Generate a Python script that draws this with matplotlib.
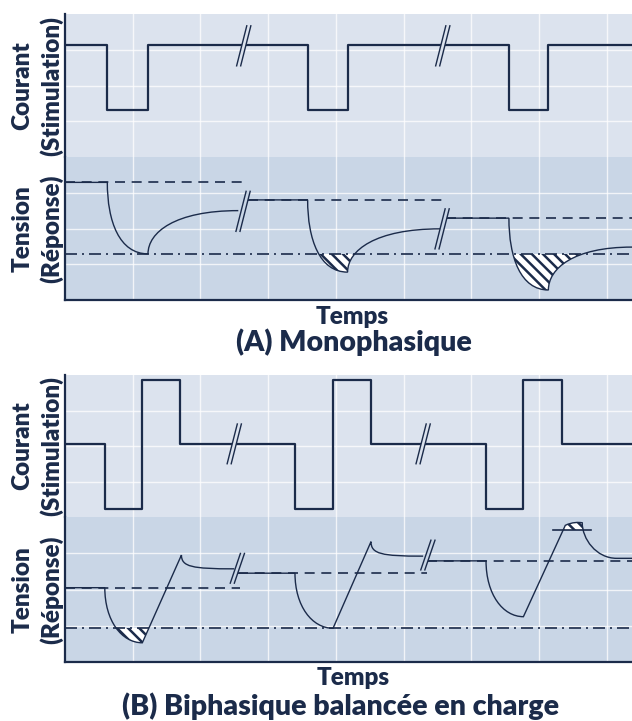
import matplotlib.pyplot as plt
from matplotlib.path import Path
from matplotlib.patches import PathPatch, Rectangle

plt.rcParams['font.family'] = ['Lato', 'DejaVu Sans']
plt.rcParams['hatch.linewidth'] = 1.8

BLEU = '#1b2b4a'
FOND_HAUT = '#dce3ee'
FOND_BAS = '#c9d6e6'
X_MAX = 8.375

# ---- (A) Monophasique ----
mono_t_on = [0.625, 3.584, 6.557]
mono_t_off = [1.226, 4.174, 7.14]
mono_i_repos = 3.13
mono_i_impulsion = 1.31
mono_coupures_i = [2.64, 5.58]

mono_debut = [0.0, 2.70, 5.63]
mono_fin = [2.56, 5.54, X_MAX]
mono_fin_tirets = [2.64, 5.57, X_MAX]
mono_v_repos = [3.29, 2.80, 2.29]
mono_v_min = [1.29, 0.78, 0.28]
mono_v_fin = [2.50, 1.99, 1.48]
mono_v_seuil = 1.29
mono_coupures_t = [2.63, 5.57]
mono_coupures_v = [2.48, 1.99]

# ---- (B) Biphasique balancée en charge ----
bi_t_on = [0.588, 3.397, 6.219]
bi_t_mid = [1.142, 3.959, 6.771]
bi_t_off = [1.702, 4.52, 7.337]
bi_i_repos = 2.06
bi_i_neg = 0.23
bi_i_pos = 3.86
bi_coupures_i = [2.50, 5.29]

bi_debut = [0.0, 2.56, 5.35]
bi_fin_tirets = [2.58, 5.35, X_MAX]
bi_v_repos = [2.05, 2.45, 2.79]
bi_v_creux = [0.53, 0.93, 1.25]
bi_t_pic = [1.72, 4.52, 7.39]
bi_v_pic = [2.95, 3.32, 3.77]
bi_t_fin = [2.50, 5.29, 8.15]
bi_v_fin = [2.57, 2.92, 2.86]
bi_v_seuil = 0.93
bi_sommet = (7.64, 3.84)   # sommet arrondi du 3e cycle
bi_v_plafond = 3.64
bi_plafond_t = (7.21, 7.77)
bi_coupures_t = [2.546, 5.36]
bi_coupures_v = [2.585, 2.95]


def courbe_rc(x0, y0, x1, y1, a=0.55, b=0.3):
    # bezier cubique : depart raide, arrivee a plat
    return [(x0, y0 + a * (y1 - y0)), (x0 + b * (x1 - x0), y1), (x1, y1)]


def preparer(ax, fond, bas):
    ax.set_facecolor(fond)
    ax.set_xlim(0, X_MAX)
    ax.set_ylim(0, 4)
    ax.set_xticks(range(1, 9))
    ax.set_yticks([1, 2, 3])
    ax.tick_params(length=0, labelbottom=False, labelleft=False)
    ax.grid(color='white', lw=1.0, alpha=0.75)
    ax.set_axisbelow(True)
    for s in ['top', 'right']:
        ax.spines[s].set_visible(False)
    ax.spines['left'].set_color(BLEU)
    ax.spines['left'].set_linewidth(1.6)
    if bas:
        ax.spines['bottom'].set_color(BLEU)
        ax.spines['bottom'].set_linewidth(1.6)
    else:
        ax.spines['bottom'].set_visible(False)


def coupure(ax, xc, yc, h, fond):
    dx, e = 0.075, 0.03
    ax.fill([xc - e - dx, xc - e + dx, xc + e + dx, xc + e - dx],
            [yc - h, yc + h, yc + h, yc - h], color=fond, lw=0, zorder=4)
    for o in (-e, e):
        ax.plot([xc + o - dx, xc + o + dx], [yc - h, yc + h], color=BLEU, lw=1.0, zorder=5)


def trace(ax, verts, codes, lw=1.0):
    ax.add_patch(PathPatch(Path(verts, codes), fill=False, edgecolor=BLEU, lw=lw, zorder=3))


def hachures(ax, verts, codes, y0, y1):
    p = PathPatch(Path(verts, codes), facecolor='white', edgecolor=BLEU, lw=0,
                  hatch='\\\\\\', zorder=2)
    ax.add_patch(p)
    p.set_clip_path(Rectangle((-1, y0), X_MAX + 2, y1 - y0, transform=ax.transData))


def escalier(t, niveaux):
    xs, ys = [0.0], [niveaux[0]]
    for ti, (a, b) in zip(t, zip(niveaux[:-1], niveaux[1:])):
        xs += [ti, ti]
        ys += [a, b]
    xs.append(X_MAX)
    ys.append(niveaux[-1])
    return xs, ys


fig = plt.figure(figsize=(6.32, 7.21), dpi=100)
L, W = 65 / 632, 1 - 65 / 632
ax_ai = fig.add_axes([L, 1 - 157 / 721, W, 143 / 721])
ax_av = fig.add_axes([L, 1 - 300 / 721, W, 143 / 721])
ax_bi = fig.add_axes([L, 1 - 517 / 721, W, 142 / 721])
ax_bv = fig.add_axes([L, 1 - 662 / 721, W, 145 / 721])
preparer(ax_ai, FOND_HAUT, False)
preparer(ax_av, FOND_BAS, True)
preparer(ax_bi, FOND_HAUT, False)
preparer(ax_bv, FOND_BAS, True)

M, L4, C4, CL = Path.MOVETO, Path.LINETO, Path.CURVE4, Path.CLOSEPOLY

# (A) courant
t_a, n_a = [], []
for on, off in zip(mono_t_on, mono_t_off):
    t_a += [on, off]
    n_a += [mono_i_impulsion, mono_i_repos]
xs, ys = escalier(t_a, [mono_i_repos] + n_a)
ax_ai.plot(xs, ys, color=BLEU, lw=1.6, zorder=3)
for xc in mono_coupures_i:
    coupure(ax_ai, xc, mono_i_repos - 0.02, 0.56, FOND_HAUT)

# (A) tension
ax_av.axhline(mono_v_seuil, color=BLEU, lw=1.2, ls=(0, (7.2, 3.0, 1.2, 3.0)), zorder=3)
for i in range(3):
    ax_av.plot([mono_debut[i], mono_fin_tirets[i]], [mono_v_repos[i]] * 2,
               color=BLEU, lw=1.2, ls=(0, (6, 4)), zorder=3)
    dec = courbe_rc(mono_t_on[i], mono_v_repos[i], mono_t_off[i], mono_v_min[i])
    rec = courbe_rc(mono_t_off[i], mono_v_min[i], mono_fin[i], mono_v_fin[i], a=0.5, b=0.3)
    trace(ax_av, [(mono_debut[i], mono_v_repos[i]), (mono_t_on[i], mono_v_repos[i])] + dec + rec,
          [M, L4] + [C4] * 6)
    if mono_v_min[i] < mono_v_seuil - 0.05:
        hachures(ax_av, [(mono_t_on[i], mono_v_repos[i])] + dec + rec + [(0, 0)],
                 [M] + [C4] * 6 + [CL], -1, mono_v_seuil)
for xc, yc in zip(mono_coupures_t, mono_coupures_v):
    coupure(ax_av, xc, yc, 0.56, FOND_BAS)

# (B) courant
t_b, n_b = [], []
for on, mid, off in zip(bi_t_on, bi_t_mid, bi_t_off):
    t_b += [on, mid, off]
    n_b += [bi_i_neg, bi_i_pos, bi_i_repos]
xs, ys = escalier(t_b, [bi_i_repos] + n_b)
ax_bi.plot(xs, ys, color=BLEU, lw=1.6, zorder=3)
for xc in bi_coupures_i:
    coupure(ax_bi, xc, bi_i_repos, 0.56, FOND_HAUT)

# (B) tension
ax_bv.axhline(bi_v_seuil, color=BLEU, lw=1.2, ls=(0, (7.2, 3.0, 1.2, 3.0)), zorder=3)
for i in range(3):
    ax_bv.plot([bi_debut[i], bi_fin_tirets[i]], [bi_v_repos[i]] * 2,
               color=BLEU, lw=1.2, ls=(0, (6, 4)), zorder=3)
    dec = courbe_rc(bi_t_on[i], bi_v_repos[i], bi_t_mid[i], bi_v_creux[i], a=0.6, b=0.45)
    verts = [(bi_debut[i], bi_v_repos[i]), (bi_t_on[i], bi_v_repos[i])] + dec + [(bi_t_pic[i], bi_v_pic[i])]
    codes = [M, L4] + [C4] * 3 + [L4]
    if i < 2:
        fin = courbe_rc(bi_t_pic[i], bi_v_pic[i], bi_t_fin[i], bi_v_fin[i], a=0.85, b=0.2)
        trace(ax_bv, verts + fin, codes + [C4] * 3)
    else:
        sx, sy = bi_sommet
        cap = [(bi_t_pic[i] + 0.4 * (sx - bi_t_pic[i]), sy + 0.02),
               (bi_t_pic[i] + 0.8 * (sx - bi_t_pic[i]), sy + 0.02), (sx, sy)]
        fin = courbe_rc(sx, sy, bi_t_fin[i], bi_v_fin[i], a=0.45, b=0.4)
        trace(ax_bv, verts + cap + fin + [(X_MAX, bi_v_fin[i])], codes + [C4] * 6 + [L4])
        hachures(ax_bv, [(bi_t_mid[i], bi_v_creux[i]), (bi_t_pic[i], bi_v_pic[i])] + cap + fin + [(0, 0)],
                 [M, L4] + [C4] * 6 + [CL], bi_v_plafond, 5)
        ax_bv.plot(bi_plafond_t, [bi_v_plafond] * 2, color=BLEU, lw=1.2, zorder=4)
    if bi_v_creux[i] < bi_v_seuil - 0.05:
        hachures(ax_bv, [(bi_t_on[i], bi_v_repos[i])] + dec + [(bi_t_pic[i], bi_v_pic[i]), (0, 0)],
                 [M] + [C4] * 3 + [L4, CL], -1, bi_v_seuil)
for xc, yc in zip(bi_coupures_t, bi_coupures_v):
    coupure(ax_bv, xc, yc, 0.41, FOND_BAS)

# textes
txt = dict(color=BLEU, fontweight='heavy')
for yc, s in [(85.5, 'Courant\n(Stimulation)'), (228.5, 'Tension\n(Réponse)'),
              (446, 'Courant\n(Stimulation)'), (589.5, 'Tension\n(Réponse)')]:
    fig.text(37.5 / 632, 1 - yc / 721, s, rotation=90, ha='center', va='center',
             fontsize=17.5, linespacing=1.3, multialignment='center', **txt)
fig.text(352 / 632, 1 - 317 / 721, 'Temps', ha='center', va='center', fontsize=17.5, **txt)
fig.text(354 / 632, 1 - 342 / 721, '(A) Monophasique', ha='center', va='center', fontsize=20.5, **txt)
fig.text(353 / 632, 1 - 678 / 721, 'Temps', ha='center', va='center', fontsize=17.5, **txt)
fig.text(341 / 632, 1 - 706 / 721, '(B) Biphasique balancée en charge', ha='center', va='center',
         fontsize=20.5, **txt)

fig.savefig('out.png', dpi=100)
